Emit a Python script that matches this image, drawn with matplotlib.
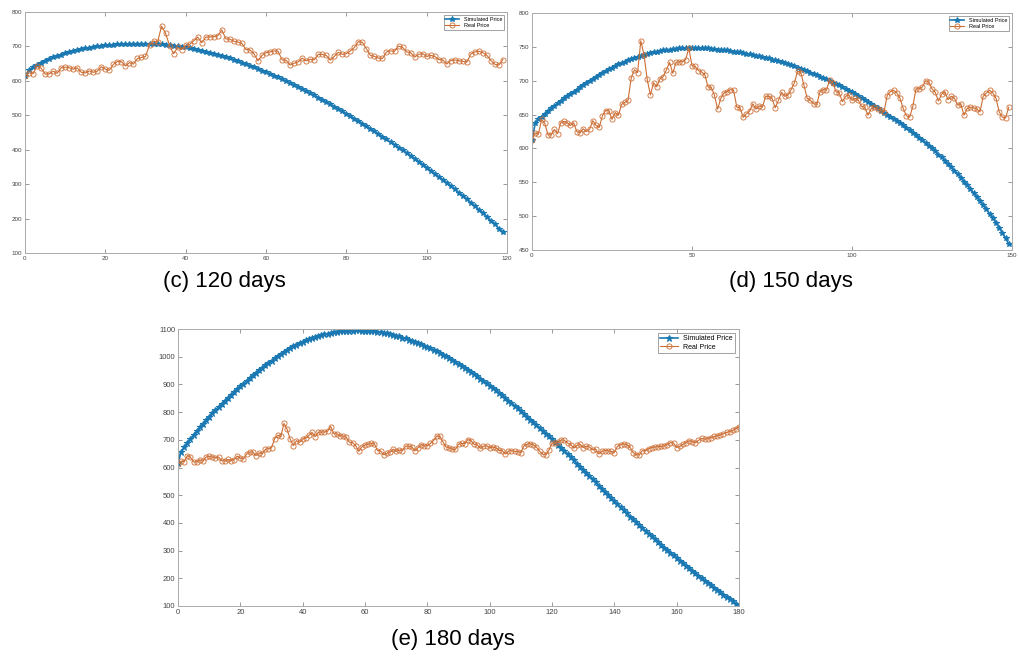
import matplotlib
matplotlib.use("Agg")
import matplotlib.pyplot as plt

plt.rcParams['font.family'] = ['Liberation Sans', 'DejaVu Sans']

# real price, one value per day (day 0 .. 180)
real_price = [
    613, 623, 621, 643, 637, 620, 620, 628, 622, 638,
    640, 638, 634, 638, 625, 623, 629, 625, 628, 641,
    634, 631, 648, 656, 656, 643, 653, 649, 665, 668,
    671, 704, 716, 712, 759, 738, 702, 679, 697, 691,
    703, 706, 716, 727, 711, 727, 728, 728, 731, 748,
    722, 721, 715, 713, 709, 691, 690, 679, 658, 674,
    682, 684, 687, 686, 661, 660, 646, 651, 655, 666,
    658, 663, 661, 677, 677, 674, 660, 671, 683, 677,
    679, 687, 697, 714, 712, 693, 674, 671, 666, 665,
    684, 687, 686, 701, 697, 684, 682, 669, 677, 679,
    671, 674, 671, 662, 661, 649, 659, 661, 658, 657,
    654, 678, 684, 686, 682, 674, 659, 648, 646, 662,
    688, 688, 691, 700, 698, 688, 683, 670, 680, 684,
    672, 677, 674, 664, 666, 649, 659, 661, 660, 658,
    654, 677, 682, 686, 682, 674, 654, 646, 645, 661,
    660, 668, 672, 674, 675, 676, 678, 683, 690, 688,
    672, 676, 684, 690, 697, 693, 690, 698, 705, 702,
    704, 708, 712, 714, 718, 722, 727, 729, 734, 740,
    748,
]

# simulated price, 120-day run (day 0 .. 119)
sim_120 = [
    614, 631, 640, 647, 653, 659, 664, 668, 672, 676,
    680, 683, 686, 689, 692, 694, 696, 698, 700, 702,
    703, 704, 705, 706, 707, 707, 708, 708, 708, 708,
    708, 708, 707, 707, 706, 705, 704, 702, 701, 699,
    697, 695, 693, 690, 688, 685, 682, 679, 676, 672,
    668, 665, 661, 657, 653, 649, 644, 640, 635, 630,
    625, 620, 615, 610, 604, 599, 593, 588, 582, 576,
    570, 564, 558, 551, 545, 538, 532, 525, 518, 511,
    504, 497, 490, 483, 476, 468, 461, 453, 446, 438,
    430, 422, 414, 406, 398, 390, 382, 374, 365, 357,
    348, 339, 330, 321, 312, 303, 294, 285, 275, 266,
    256, 246, 236, 226, 216, 205, 194, 183, 171, 160,
]

# simulated price, 150-day run (day 0 .. 149)
sim_150 = [
    612, 637, 643, 647, 651, 655, 659, 663, 667, 670,
    674, 677, 681, 684, 687, 690, 694, 697, 700, 703,
    706, 709, 712, 714, 717, 719, 722, 724, 726, 728,
    730, 732, 734, 735, 737, 738, 740, 741, 742, 743,
    744, 745, 746, 746, 747, 747, 748, 748, 748, 748,
    748, 748, 748, 748, 748, 748, 747, 747, 746, 746,
    745, 745, 744, 743, 743, 742, 741, 740, 739, 738,
    737, 736, 735, 734, 733, 731, 730, 729, 727, 726,
    724, 723, 721, 719, 718, 716, 714, 712, 710, 708,
    706, 704, 702, 700, 697, 695, 693, 690, 688, 685,
    683, 680, 677, 674, 671, 668, 665, 662, 659, 656,
    653, 650, 647, 644, 640, 637, 634, 630, 627, 623,
    620, 616, 612, 608, 604, 600, 596, 591, 587, 582,
    577, 572, 567, 562, 557, 551, 546, 540, 534, 528,
    522, 516, 510, 503, 497, 490, 483, 475, 467, 459,
]

# simulated price, 180-day run (day 0 .. 180)
sim_180 = [
    615, 657, 673, 689, 704, 718, 732, 745, 758, 771,
    784, 796, 807, 818, 829, 840, 851, 861, 872, 882,
    893, 903, 913, 923, 933, 942, 951, 960, 969, 977,
    986, 994, 1002, 1010, 1017, 1024, 1031, 1037, 1043, 1049,
    1054, 1059, 1064, 1068, 1072, 1075, 1078, 1081, 1083, 1086,
    1088, 1090, 1091, 1092, 1093, 1094, 1094, 1095, 1095, 1094,
    1094, 1093, 1092, 1091, 1090, 1088, 1086, 1084, 1082, 1079,
    1076, 1073, 1069, 1066, 1062, 1058, 1054, 1049, 1045, 1040,
    1035, 1030, 1024, 1019, 1013, 1007, 1001, 994, 987, 981,
    974, 967, 959, 952, 944, 937, 929, 921, 913, 904,
    896, 887, 878, 869, 860, 851, 841, 832, 822, 813,
    803, 793, 783, 773, 763, 753, 743, 733, 722, 712,
    702, 691, 680, 670, 659, 648, 637, 626, 614, 603,
    592, 581, 569, 558, 546, 535, 524, 512, 501, 489,
    478, 467, 456, 445, 434, 423, 413, 402, 392, 381,
    371, 361, 351, 341, 331, 321, 311, 302, 292, 283,
    273, 264, 255, 245, 236, 227, 218, 209, 201, 192,
    183, 175, 166, 158, 149, 141, 133, 125, 117, 108,
    100,
]

captions = ['(c) 120 days', '(d) 150 days', '(e) 180 days']

BLUE = '#1a78b2'
ORANGE = '#cc6e34'

fig = plt.figure(figsize=(10.2, 6.58), dpi=100)

W, H = 1020.0, 658.0
def place(l, r, t, b):
    return [l / W, 1 - b / H, (r - l) / W, (b - t) / H]

panels = [
    dict(rect=place(25, 507, 12, 253), sim=sim_120, n=120, xlim=(0, 120),
         ylim=(100, 800), xt=range(0, 121, 20), yt=range(100, 801, 100), fs=4.5, ms=4.2),
    dict(rect=place(532, 1012, 13, 250), sim=sim_150, n=150, xlim=(0, 150),
         ylim=(450, 800), xt=[0, 50, 100, 150], yt=range(450, 801, 50), fs=4.5, ms=4.2),
    dict(rect=place(178, 739, 329, 606), sim=sim_180, n=181, xlim=(0, 180),
         ylim=(100, 1100), xt=range(0, 181, 20), yt=range(100, 1101, 100), fs=5.5, ms=4.8),
]

for p in panels:
    ax = fig.add_axes(p['rect'])
    days = list(range(len(p['sim'])))
    ax.plot(days, p['sim'], color=BLUE, lw=1.2, marker='*', ms=p['ms'],
            mew=0.8, label='Simulated Price')
    rd = list(range(p['n']))
    ax.plot(rd, real_price[:p['n']], color=ORANGE, lw=0.8, marker='o', ms=3.7,
            mfc='none', mew=0.6, label='Real Price')
    ax.set_xlim(*p['xlim'])
    ax.set_ylim(*p['ylim'])
    ax.set_xticks(list(p['xt']))
    ax.set_yticks(list(p['yt']))
    ax.tick_params(direction='in', length=3, width=0.6, colors='#888888',
                   labelcolor='#444444', labelsize=p['fs'], top=True, right=True, pad=2)
    for s in ax.spines.values():
        s.set_color('#aaaaaa')
        s.set_linewidth(0.7)
    leg = ax.legend(loc='upper right', fontsize=p['fs'] - 0.5, frameon=True,
                    fancybox=False, borderpad=0.3, handlelength=2.5,
                    borderaxespad=0.6, labelspacing=0.2)
    leg.get_frame().set_edgecolor('#777777')
    leg.get_frame().set_linewidth(0.6)

fig.text(224 / W, 1 - 282 / H, captions[0], ha='center', va='center', fontsize=16)
fig.text(791 / W, 1 - 282 / H, captions[1], ha='center', va='center', fontsize=16)
fig.text(453 / W, 1 - 640 / H, captions[2], ha='center', va='center', fontsize=16)

fig.savefig('out.png', dpi=100)
